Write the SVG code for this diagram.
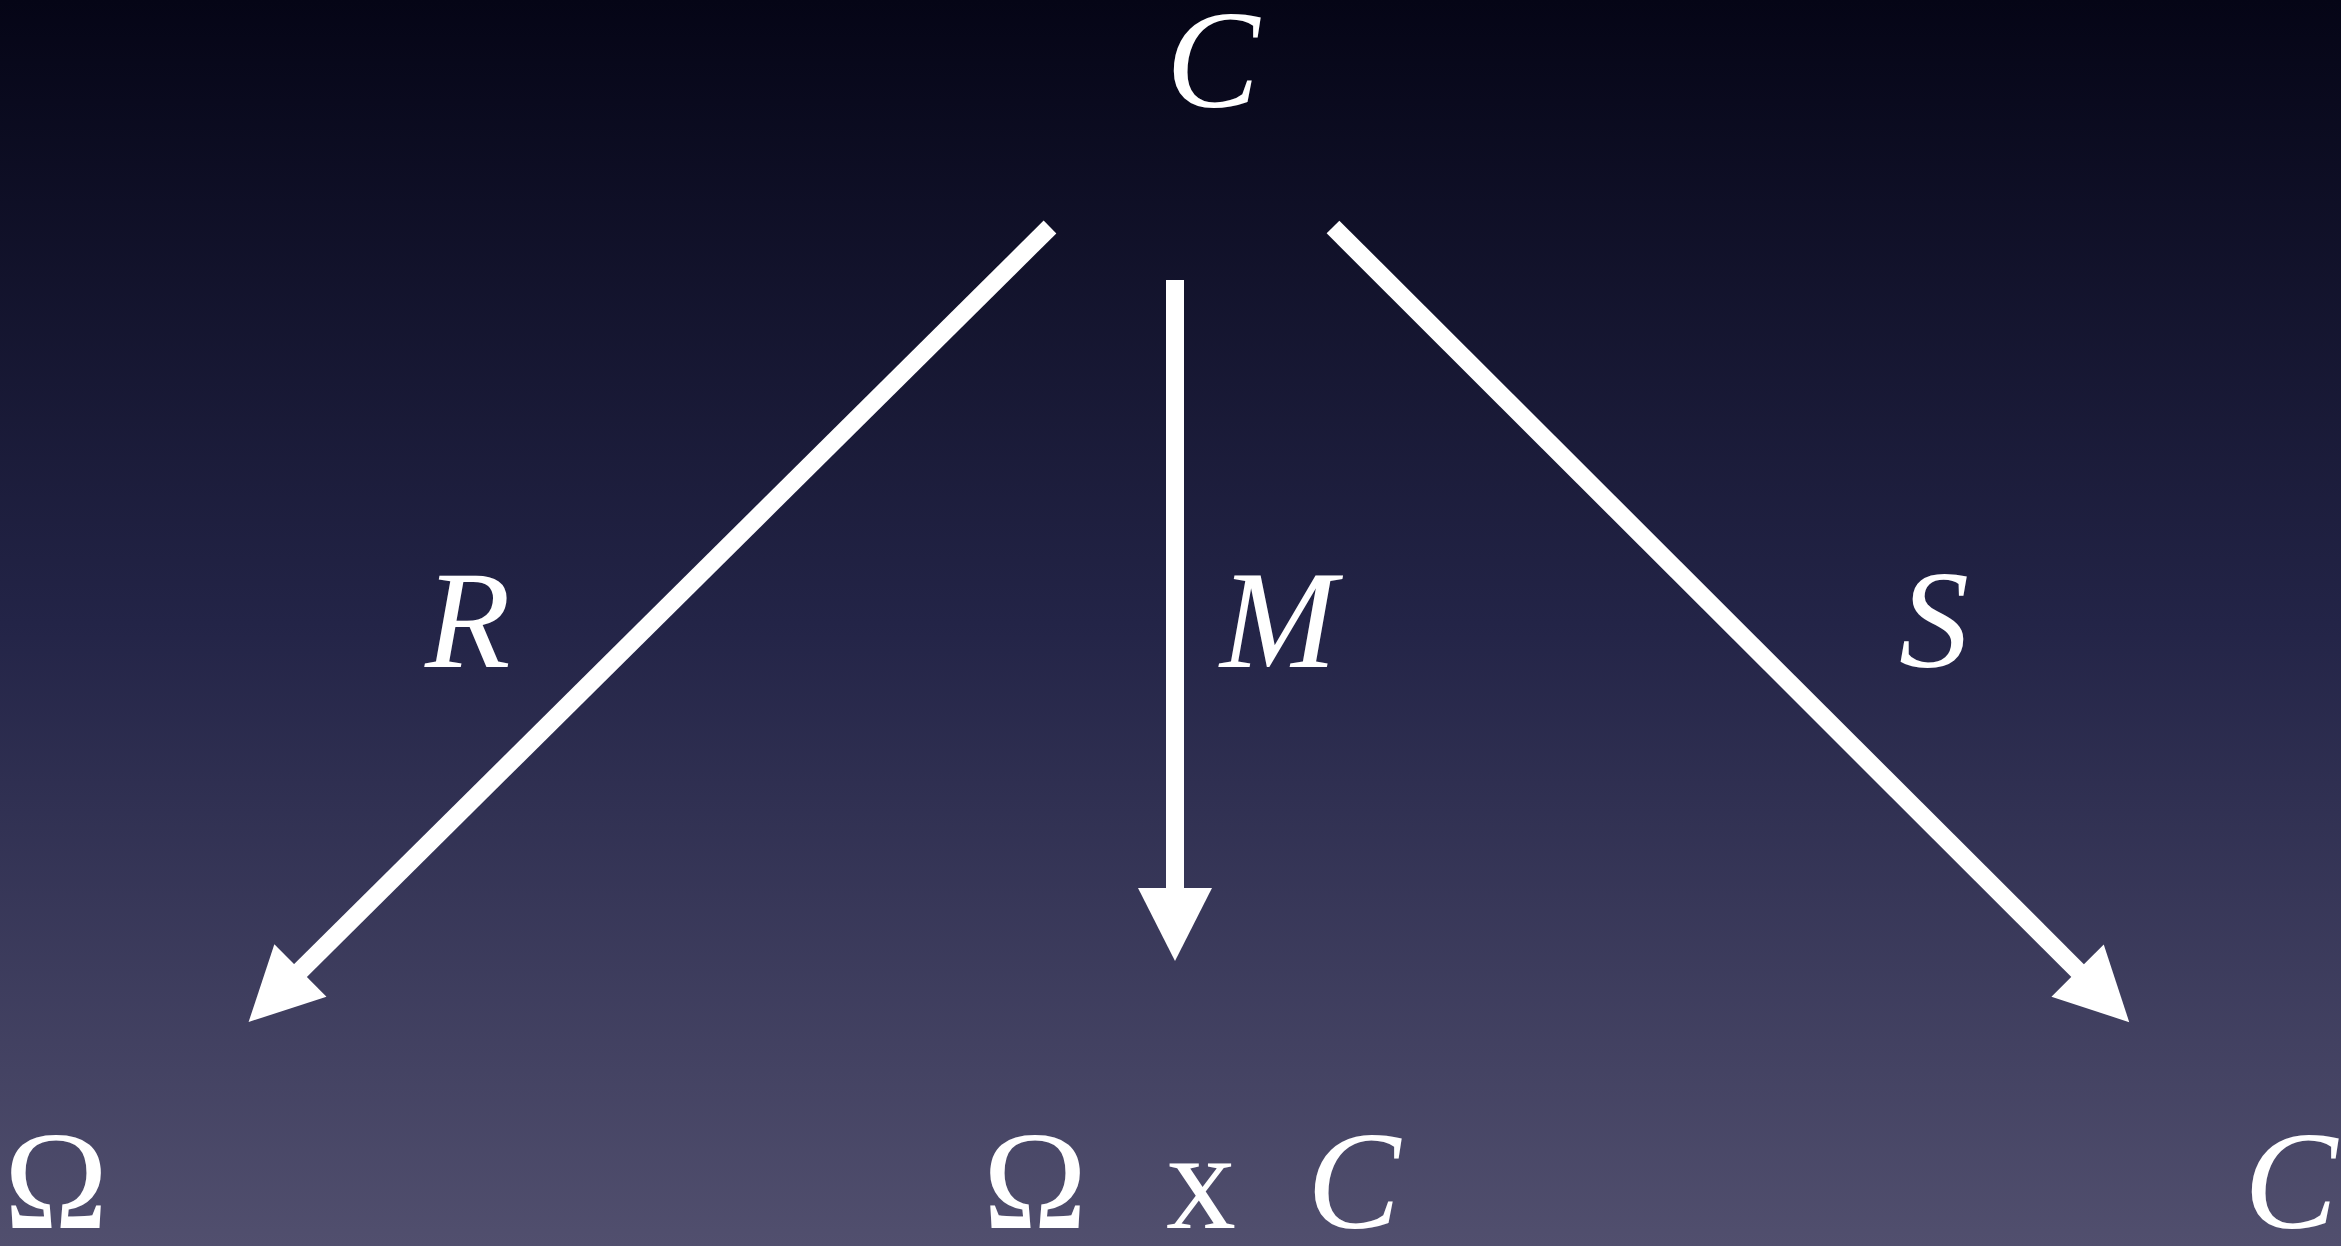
<svg xmlns="http://www.w3.org/2000/svg" width="2341" height="1246" viewBox="0 0 2341 1246">
  <defs>
    <linearGradient id="bg" x1="0" y1="0" x2="0" y2="1">
      <stop offset="0" stop-color="#050516"/>
      <stop offset="0.5" stop-color="#232447"/>
      <stop offset="1" stop-color="#514f6e"/>
    </linearGradient>
    <marker id="head" markerUnits="userSpaceOnUse" markerWidth="80" markerHeight="80" refX="2" refY="37" orient="auto" overflow="visible">
      <path d="M0,0 L73,37 L0,74 Z" fill="#ffffff"/>
    </marker>
  </defs>
  <style>
    .edge { stroke: #ffffff; stroke-width: 18; fill: none; marker-end: url(#head); }
  </style>
  <rect x="0" y="0" width="2341" height="1246" fill="url(#bg)"/>
  <g font-family="Liberation Serif, Times New Roman, Times, serif" font-size="140" fill="#ffffff">
    <g id="connectors">
      <line id="edge-R" class="edge" x1="1050" y1="227" x2="299" y2="972"/>
      <line id="edge-M" class="edge" x1="1175" y1="280" x2="1175" y2="890"/>
      <line id="edge-S" class="edge" x1="1333" y1="227" x2="2079" y2="972"/>
      <text font-style="italic" x="425" y="667">R</text>
      <text font-style="italic" x="1220" y="667">M</text>
      <text font-style="italic" x="1899" y="667">S</text>
    </g>
    <g id="node-C-top">
      <text font-style="italic" x="1166" y="107">C</text>
    </g>
    <g id="node-Omega">
      <text x="4" y="1228">Ω</text>
    </g>
    <g id="node-OmegaxC">
      <text y="1228"><tspan x="983">Ω</tspan><tspan x="1166">x</tspan><tspan x="1307" font-style="italic">C</tspan></text>
    </g>
    <g id="node-C-right">
      <text font-style="italic" x="2244" y="1228">C</text>
    </g>
  </g>
</svg>
